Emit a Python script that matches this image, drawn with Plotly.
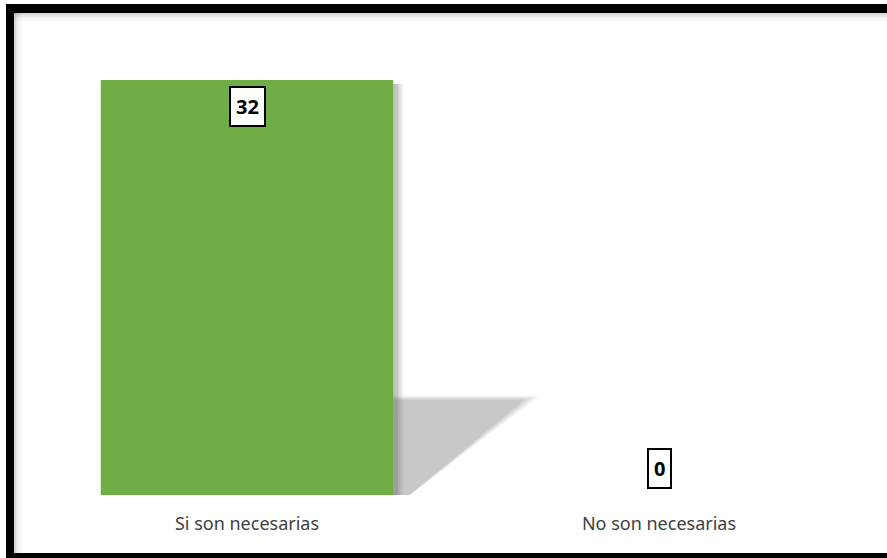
import plotly.graph_objects as go

### DATA ###
categories = ["Si son necesarias", "No son necesarias"]
values = [32, 0]
bar_color = "#70AD47"

W, H = 887, 558
L, R, T, B = 41, 22, 80, 63
plot_w = W - L - R
plot_h = H - T - B


def px_x(px):
    # reference pixel -> paper x
    return (px - L) / plot_w


def px_y(py):
    # reference pixel -> paper y
    return (H - B - py) / plot_h


fig = go.Figure()

fig.add_trace(
    go.Bar(
        x=categories,
        y=values,
        marker=dict(color=bar_color, line=dict(width=0)),
        hoverinfo="skip",
    )
)

shapes = []
half = (1 - 0.29) / 2

# cast shadow behind the bar (built from its value), soft edges via layering
for i, v in enumerate(values):
    if v <= 0:
        continue
    sh_h = v * 0.23
    for k, op in enumerate([0.08, 0.10, 0.13, 0.18]):
        grow = (3 - k) * 0.012
        shapes.append(dict(
            type="path", xref="x", yref="y", layer="below",
            path=(f"M {i + half},{sh_h + grow * 8} L {i + half + 0.32 + grow},{sh_h + grow * 8} "
                  f"L {i + half + 0.04},0 L {i + half},0 Z"),
            fillcolor=f"rgba(120,120,120,{op})", line=dict(width=0),
        ))
    # soft drop shadow right / below the bar
    for k, op in enumerate([0.08, 0.12, 0.18]):
        d = (3 - k) * 0.006
        shapes.append(dict(
            type="rect", xref="x", yref="y", layer="below",
            x0=i - half + 0.01, x1=i + half + d + 0.006,
            y0=-0.35 - d * 20, y1=v - 0.3,
            fillcolor=f"rgba(80,80,80,{op})", line=dict(width=0),
        ))

# thick black frame (right side is cut off in the reference)
frame = [
    (6, 4, 14, 558),      # left
    (6, 4, 887, 13),      # top
    (6, 553, 887, 558),   # bottom
]
for x0, y0, x1, y1 in frame:
    shapes.append(dict(
        type="rect", xref="paper", yref="paper",
        x0=px_x(x0), x1=px_x(x1), y0=px_y(y1), y1=px_y(y0),
        fillcolor="black", line=dict(width=0), layer="above",
    ))
# inner soft shadow of the frame
for k, op in enumerate([0.25, 0.15, 0.08, 0.04]):
    shapes.append(dict(
        type="rect", xref="paper", yref="paper",
        x0=px_x(14), x1=px_x(887), y0=px_y(13 + 2 * (k + 1)), y1=px_y(13 + 2 * k),
        fillcolor=f"rgba(100,100,100,{op})", line=dict(width=0), layer="above",
    ))
    shapes.append(dict(
        type="rect", xref="paper", yref="paper",
        x0=px_x(14 + 2 * k), x1=px_x(14 + 2 * (k + 1)), y0=px_y(553), y1=px_y(13),
        fillcolor=f"rgba(100,100,100,{op})", line=dict(width=0), layer="above",
    ))

annotations = []
for i, (c, v) in enumerate(zip(categories, values)):
    inside = v > 0
    annotations.append(dict(
        x=c, y=v, xref="x", yref="y", text=f"<b>{v}</b>", showarrow=False,
        yanchor="top" if inside else "bottom", yshift=-6 if inside else 6,
        font=dict(family="Open Sans, Arial", size=20, color="black"),
        bgcolor="white", bordercolor="black", borderwidth=2, borderpad=5,
    ))

fig.update_layout(
    width=W, height=H,
    margin=dict(l=L, r=R, t=T, b=B),
    paper_bgcolor="white", plot_bgcolor="white",
    bargap=0.29,
    showlegend=False,
    shapes=shapes,
    annotations=annotations,
    font=dict(family="Noto Sans, Arial", size=15, color="#404040"),
)
fig.update_xaxes(showgrid=False, showline=False, ticks="", tickfont=dict(size=18),
                 ticklabelstandoff=16, range=[-0.5, 1.5])
fig.update_yaxes(range=[0, 32], visible=False, showgrid=False, zeroline=False)

# drop the default body margin so the figure fills the window exactly
fig.write_html(
    "out.html",
    config={"displayModeBar": False},
    post_script="document.body.style.margin='0';document.body.style.overflow='hidden';",
)
